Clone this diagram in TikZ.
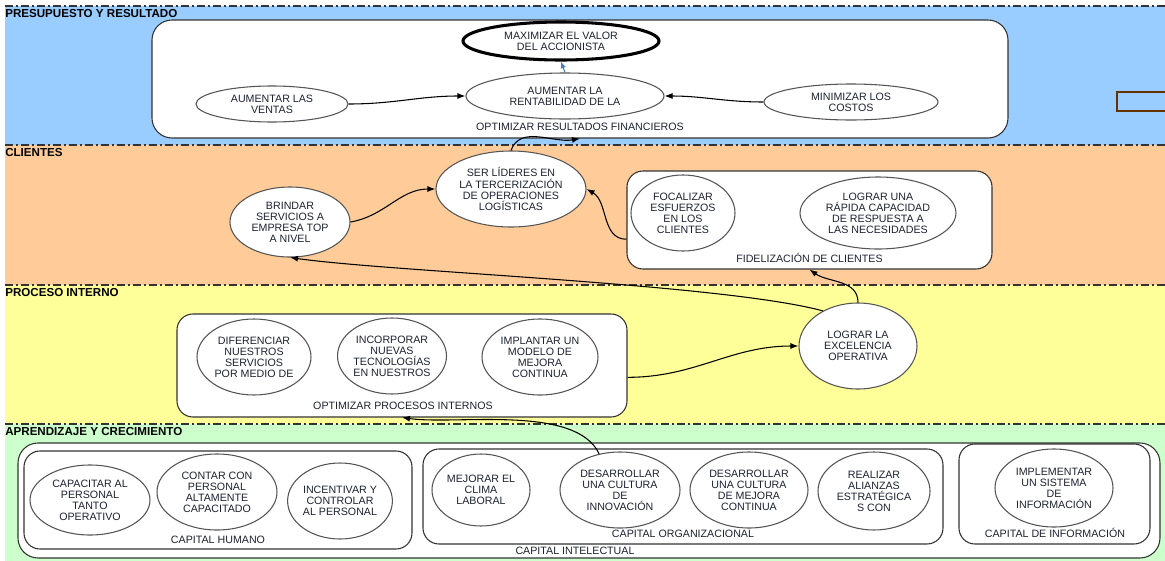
\documentclass[tikz,border=0pt]{standalone}
\usepackage{fontspec}
\setmainfont{Liberation Sans}
\usetikzlibrary{shapes.geometric,arrows.meta}

\definecolor{bandblue}{HTML}{99CCFF}
\definecolor{bandorange}{HTML}{FFCC99}
\definecolor{bandyellow}{HTML}{FFFF99}
\definecolor{bandgreen}{HTML}{CCFFCC}
\definecolor{sepgray}{HTML}{333333}
\definecolor{elgray}{HTML}{555555}
\definecolor{boxgray}{HTML}{333333}
\definecolor{txt}{HTML}{1C2230}
\definecolor{linkblue}{HTML}{4A7EBB}
\definecolor{markbrown}{HTML}{663300}

\newcommand{\etxt}{\fontsize{8}{8.3}\selectfont}
\newcommand{\htxt}{\fontsize{8.7}{9}\selectfont\bfseries}

\tikzset{
  sz/.style 2 args={minimum width=#1*0.75pt, minimum height=#2*0.75pt},
  el/.style={ellipse, draw=elgray, fill=white, line width=0.8pt, align=center,
             inner sep=0pt, font=\etxt, text=txt},
  goal/.style={el, draw=black, line width=2.3pt},
  cont/.style={draw=boxgray, fill=white, rounded corners=12pt, line width=0.8pt, inner sep=0pt},
  lab/.style={font=\etxt, text=txt, inner sep=0pt},
  head/.style={font=\htxt, text=black, anchor=west, inner sep=0pt},
  con/.style={-{Latex[length=6pt,width=4.5pt]}, line width=0.8pt, draw=black},
  sep/.style={draw=sepgray, line width=1.1pt, dash pattern=on 6pt off 2pt on 2pt off 2pt}
}

\begin{document}
\begin{tikzpicture}[x=0.75pt,y=-0.75pt]
\useasboundingbox (0,0) rectangle (1165,561);

% perspective bands
\fill[bandblue]   (5,6)   rectangle (1165,145);
\fill[bandorange] (5,145) rectangle (1165,285);
\fill[bandyellow] (5,285) rectangle (1165,424);
\fill[bandgreen]  (5,424) rectangle (1165,561);
\foreach \yy in {6,145,285,424} \draw[sep] (5,\yy) -- (1165,\yy);

\node[head] (hpre) at (5,14)  {PRESUPUESTO Y RESULTADO};
\node[head] (hcli) at (5,153) {CLIENTES};
\node[head] (hpro) at (5,293) {PROCESO INTERNO};
\node[head] (hapr) at (5,432) {APRENDIZAJE Y CRECIMIENTO};

% financial perspective
\node[cont, sz={856}{118}, rounded corners=15pt] (optres) at (580,79) {};
\node[lab] (loptres) at (580,127) {OPTIMIZAR RESULTADOS FINANCIEROS};
\node[goal, sz={196}{38}] (maxim) at (561,41) {MAXIMIZAR EL VALOR\\DEL ACCIONISTA};
\node[el, sz={198}{46}] (rentab) at (565,96) {AUMENTAR LA\\RENTABILIDAD DE LA};
\node[el, sz={152}{36}] (ventas) at (272,104) {AUMENTAR LAS\\VENTAS};
\node[el, sz={174}{36}] (costos) at (851,102) {MINIMIZAR LOS\\COSTOS};
\node[draw=markbrown, line width=1.6pt, sz={53}{19}, inner sep=0pt] (mark) at (1143.5,101.5) {};

% customer perspective
\node[el, sz={150}{76}] (lideres) at (511,189) {SER LÍDERES EN\\LA TERCERIZACIÓN\\DE OPERACIONES\\LOGÍSTICAS};
\node[el, sz={120}{70}] (brindar) at (290,222) {BRINDAR\\SERVICIOS A\\EMPRESA TOP\\A NIVEL};
\node[cont, sz={365}{98}] (fidel) at (809.5,220) {};
\node[lab] (lfidel) at (809.5,258) {FIDELIZACIÓN DE CLIENTES};
\node[el, sz={104}{76}] (focal) at (683,213) {FOCALIZAR\\ESFUERZOS\\EN LOS\\CLIENTES};
\node[el, sz={156}{72}] (rapida) at (878,213) {LOGRAR UNA\\RÁPIDA CAPACIDAD\\DE RESPUESTA  A\\LAS NECESIDADES};

% internal process perspective
\node[cont, sz={450}{103}] (optproc) at (402,365.5) {};
\node[lab] (loptproc) at (403,406) {OPTIMIZAR PROCESOS INTERNOS};
\node[el, sz={114}{76}] (difer) at (254,357) {DIFERENCIAR\\NUESTROS\\SERVICIOS\\POR MEDIO DE};
\node[el, sz={100}{76}] (incorp) at (392,356) {INCORPORAR\\NUEVAS\\TECNOLOGÍAS\\EN NUESTROS};
\node[el, sz={116}{76}] (implan) at (540,357) {IMPLANTAR UN\\MODELO DE\\MEJORA\\CONTINUA};
\node[el, sz={118}{86}] (excel) at (858,346) {LOGRAR LA\\EXCELENCIA\\OPERATIVA};

% learning and growth perspective
\node[cont, sz={1142}{115}, rounded corners=15pt] (intel) at (589,500.5) {};
\node[lab] (lintel) at (575,551) {CAPITAL INTELECTUAL};
\node[cont, sz={388}{98}] (humano) at (218,500) {};
\node[lab] (lhumano) at (218,540) {CAPITAL HUMANO};
\node[cont, sz={520}{95}] (organ) at (683,496.5) {};
\node[lab] (lorgan) at (683,534) {CAPITAL ORGANIZACIONAL};
\node[cont, sz={191}{100}] (infocap) at (1054.5,494) {};

\node[el, sz={120}{70}] (capac) at (90,500) {CAPACITAR AL\\PERSONAL\\TANTO\\OPERATIVO};
\node[el, sz={120}{76}] (contar) at (217,492) {CONTAR CON\\PERSONAL\\ALTAMENTE\\CAPACITADO};
\node[el, sz={98}{76}] (incent) at (340,501) {INCENTIVAR Y\\CONTROLAR\\AL PERSONAL};
\node[el, sz={98}{72}] (clima) at (481,490) {MEJORAR EL\\CLIMA\\LABORAL};
\node[el, sz={120}{76}] (innov) at (620,490) {DESARROLLAR\\UNA CULTURA\\DE\\INNOVACIÓN};
\node[el, sz={118}{76}] (mejora) at (749,490) {DESARROLLAR\\UNA CULTURA\\DE MEJORA\\CONTINUA};
\node[el, sz={112}{78}] (alianz) at (874,491) {REALIZAR\\ALIANZAS\\ESTRATÉGICA\\S CON};
\node[el, sz={118}{78}] (sistema) at (1054,488) {IMPLEMENTAR\\UN SISTEMA\\DE\\INFORMACIÓN};
\node[lab] (linfocap) at (1055,533) {CAPITAL DE INFORMACIÓN};

% cause and effect links
\draw[con] (ventas.east) to[out=0,in=180] (rentab.west);
\draw[con] (costos.west) to[out=180,in=0] (rentab.east);
\draw[-{Latex[length=5pt,width=4pt]}, line width=0.8pt, draw=linkblue] (rentab.north) -- (maxim.south);
\draw[con] (lideres.north) to[out=70,in=190] (optres.south);
\draw[con] (brindar.east) to[out=10,in=180] (lideres.west);
\draw[con] (fidel.186) to[out=180,in=-30] (lideres.east);
\draw[con] (optproc.-3) to[out=0,in=180] (excel.west);
\draw[con] (excel.135) to[out=165,in=-8,looseness=0.5] (brindar.south);
\draw[con] (excel.north) to[out=90,in=-35] (fidel.south);
\draw[con] (innov.120) to[out=115,in=-8,looseness=0.7] (optproc.south);
\end{tikzpicture}
\end{document}
